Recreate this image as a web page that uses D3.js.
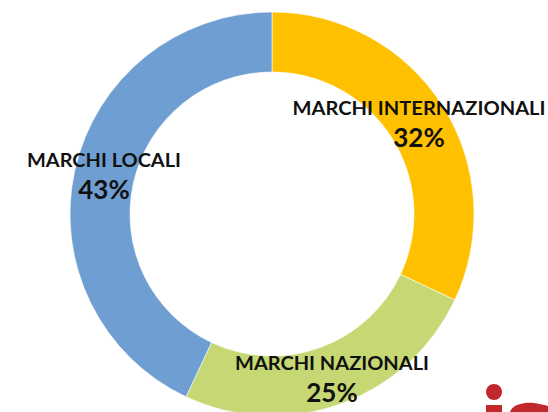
<!DOCTYPE html>
<html>
<head>
<meta charset="utf-8">
<script src="https://cdn.jsdelivr.net/npm/d3@7"></script>
<style>
  body { margin: 0; background: #fff; }
  svg { display: block; }
  text { font-family: Lato, "Open Sans", sans-serif; font-weight: bold; fill: #111; }
</style>
</head>
<body>
<svg id="canvas" width="548" height="412"></svg>
<script>
// chart data
let categories = ['MARCHI INTERNAZIONALI', 'MARCHI NAZIONALI', 'MARCHI LOCALI']
let shares = [32, 25, 43]
let colors = ['#ffc000', '#c6d873', '#6f9fd2']

// where each label sits (layout, not data)
let labelPos = [[419, 115, 253], [332, 370, 194], [104, 167, 154]]

let width = 548, height = 412
let cx = 272, cy = 214
let outerR = 202, innerR = 142

let canvas = d3.select('#canvas')

let pie = d3.pie().sort(null).value(d => d)
let arc = d3.arc().innerRadius(innerR).outerRadius(outerR)

let g = canvas.append('g').attr('transform', `translate(${cx},${cy})`)

g.selectAll('path')
    .data(pie(shares))
    .enter()
    .append('path')
    .attr('d', arc)
    .attr('fill', (d, i) => colors[i])
    .attr('stroke', '#fff')
    .attr('stroke-width', 0.6)

// labels
categories.forEach((c, i) => {
    let [x, y, w] = labelPos[i]
    canvas.append('text')
        .attr('x', x).attr('y', y)
        .attr('text-anchor', 'middle')
        .attr('font-size', 19)
        .attr('textLength', w)
        .attr('lengthAdjust', 'spacingAndGlyphs')
        .text(c)
    canvas.append('text')
        .attr('x', x).attr('y', y + 32)
        .attr('text-anchor', 'middle')
        .attr('font-size', 26)
        .text(shares[i] + '%')
})

// logo fragment at the bottom right
let logo = canvas.append('g').attr('fill', '#c1272d')
logo.append('circle').attr('cx', 494).attr('cy', 392).attr('r', 8)
logo.append('rect').attr('x', 486).attr('y', 405).attr('width', 16).attr('height', 10)
logo.append('path').attr('d', 'M510,412 C512,404 526,402 534,403 C542,404 548,406 548,406 L548,412 Z')
</script>
</body>
</html>
